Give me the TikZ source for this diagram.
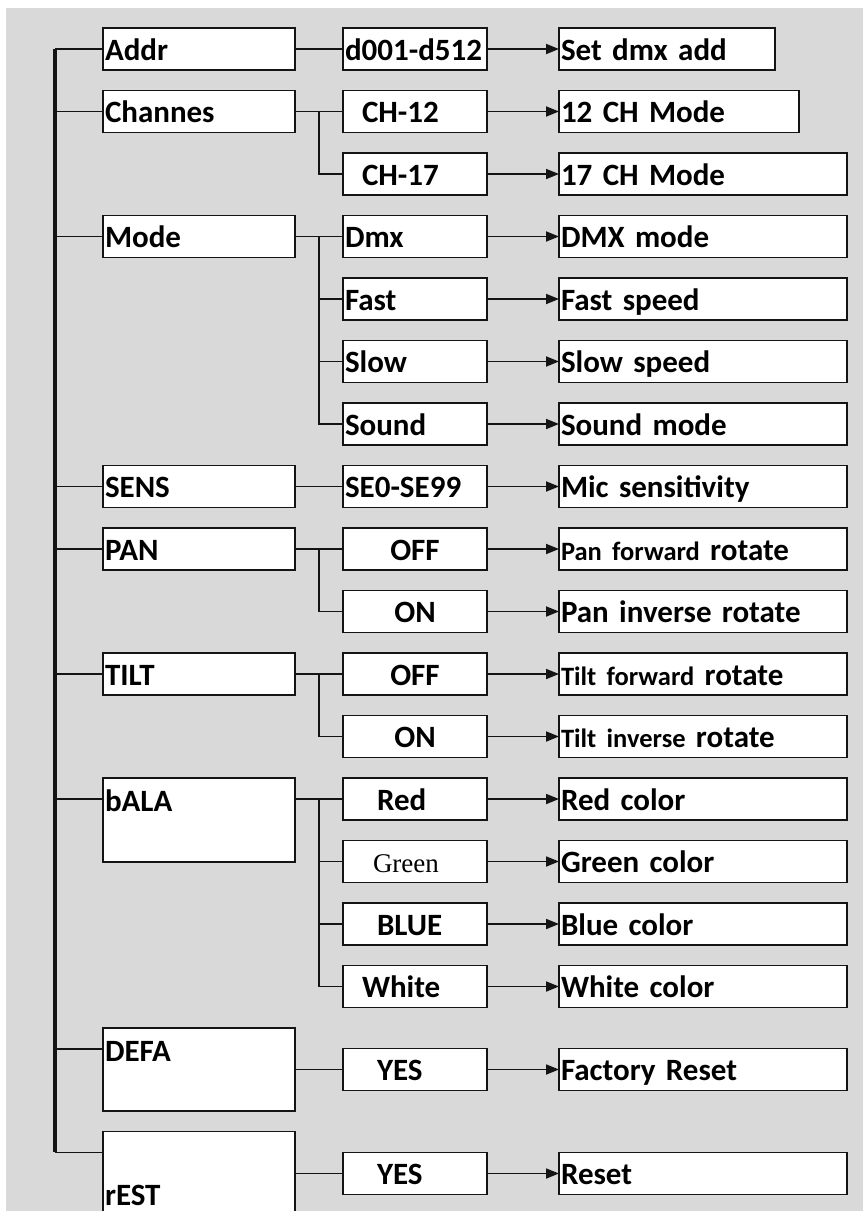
\documentclass[tikz,border=0pt]{standalone}
\usepackage{fontspec}
\setmainfont{Carlito}
\newfontfamily\greenfont{Liberation Serif}
\usepackage{tikz}
\usetikzlibrary{positioning,arrows.meta,calc}
\definecolor{panel}{HTML}{D9D9D9}
\definecolor{ink}{HTML}{141414}
\newcommand{\smallword}[1]{{\fontsize{26.5}{32}\selectfont #1}}

\begin{document}
\begin{tikzpicture}[
  x=1pt,y=-1pt,
  font=\bfseries\fontsize{31}{37}\selectfont,
  box/.style={draw=ink,fill=white,line width=1.8pt,outer sep=0pt,inner xsep=2pt,inner ysep=0pt,text height=32pt,text depth=10pt,align=left},
  menu/.style={box,text width=188pt},
  opt/.style={box,text width=140pt},
  res/.style={box,text width=284pt},
  link/.style={line width=1.8pt,color=ink},
  arr/.style={link,-{Triangle[length=13pt,width=10pt]}},
  trunk/.style={line width=4.5pt,color=ink}
]
  \useasboundingbox (0,0) rectangle (863,1211);
  \fill[panel] (6,8) rectangle (863,1211);

  % second column
  \node[opt] (d001) at (415,49) {d001-d512};
  \node[opt,below=20.5pt of d001] (ch12) {\hspace*{17pt}CH-12};
  \node[opt,below=20.5pt of ch12] (ch17) {\hspace*{17pt}CH-17};
  \node[opt,below=20.5pt of ch17] (dmx) {Dmx};
  \node[opt,below=20.5pt of dmx] (fast) {Fast};
  \node[opt,below=20.5pt of fast] (slow) {Slow};
  \node[opt,below=20.5pt of slow] (sound) {Sound};
  \node[opt,below=20.5pt of sound] (se) {SE0-SE99};
  \node[opt,align=center,below=20.5pt of se] (panoff) {OFF};
  \node[opt,align=center,below=20.5pt of panoff] (panon) {ON};
  \node[opt,align=center,below=20.5pt of panon] (tiltoff) {OFF};
  \node[opt,align=center,below=20.5pt of tiltoff] (tilton) {ON};
  \node[opt,below=20.5pt of tilton] (red) {\hspace*{32pt}Red};
  \node[opt,below=20.5pt of red] (green) {\greenfont\mdseries\fontsize{27}{32}\selectfont\hspace*{28pt}Green};
  \node[opt,below=20.5pt of green] (blue) {\hspace*{32pt}BLUE};
  \node[opt,below=20.5pt of blue] (white) {\hspace*{17pt}White};
  \node[opt,below=41pt of white] (yes1) {\hspace*{32pt}YES};
  \node[opt,below=62pt of yes1] (yes2) {\hspace*{32pt}YES};

  % third column
  \node[res,text width=212pt,right=72pt of d001] (setadd) {Set dmx add};
  \node[res,text width=236pt,right=72pt of ch12] (mode12) {12 CH Mode};
  \node[res,right=72pt of ch17] (mode17) {17 CH Mode};
  \node[res,right=72pt of dmx] (dmxmode) {DMX mode};
  \node[res,right=72pt of fast] (fastspd) {Fast speed};
  \node[res,right=72pt of slow] (slowspd) {Slow speed};
  \node[res,right=72pt of sound] (sndmode) {Sound mode};
  \node[res,right=72pt of se] (micsens) {Mic sensitivity};
  \node[res,right=72pt of panoff] (panfwd) {\smallword{Pan forward} rotate};
  \node[res,right=72pt of panon] (panrev) {Pan inverse rotate};
  \node[res,right=72pt of tiltoff] (tiltfwd) {\smallword{Tilt forward} rotate};
  \node[res,right=72pt of tilton] (tiltrev) {\smallword{Tilt inverse} rotate};
  \node[res,right=72pt of red] (redcol) {Red color};
  \node[res,right=72pt of green] (greencol) {Green color};
  \node[res,right=72pt of blue] (bluecol) {Blue color};
  \node[res,right=72pt of white] (whitecol) {White color};
  \node[res,right=72pt of yes1] (factory) {Factory Reset};
  \node[res,right=72pt of yes2] (reset) {Reset};

  % first column
  \node[menu,left=48pt of d001] (addr) {Addr};
  \node[menu,left=48pt of ch12] (chan) {Channes};
  \node[menu,left=48pt of dmx] (mode) {Mode};
  \node[menu,left=48pt of se] (sens) {SENS};
  \node[menu,left=48pt of panoff] (pan) {PAN};
  \node[menu,left=48pt of tiltoff] (tilt) {TILT};
  \node[menu,text height=33pt,text depth=51pt,left=48pt of red.north west,anchor=north east] (bala) {bALA};
  \node[menu,text height=33pt,text depth=50pt,left=48pt of yes1] (defa) {DEFA};
  \node[menu,text height=74pt,text depth=10pt,left=48pt of yes2] (rest) {rEST};

  % trunk and branches
  \coordinate (trunktop) at (55,49);
  \coordinate (trunkbot) at (55,1152);
  \coordinate (fork) at (319,0);
  \draw[trunk] (trunktop) -- (trunkbot);
  \foreach \m in {addr,chan,mode,sens,pan,tilt,bala,defa,rest}
    \draw[link] ($(\m.north west)+(0,21)$) coordinate (hook) -- (hook -| trunktop);

  \draw[link] (addr) -- (d001);
  \draw[link] (chan) -- (ch12);
  \draw[link] (ch17.west) -| (fork |- ch12.west);
  \draw[link] (mode) -- (dmx);
  \foreach \s in {fast,slow,sound}
    \draw[link] (\s.west) -| (fork |- dmx.west);
  \draw[link] (sens) -- (se);
  \draw[link] (pan) -- (panoff);
  \draw[link] (panon.west) -| (fork |- panoff.west);
  \draw[link] (tilt) -- (tiltoff);
  \draw[link] (tilton.west) -| (fork |- tiltoff.west);
  \draw[link] (bala.east |- red) -- (red);
  \foreach \s in {green,blue,white}
    \draw[link] (\s.west) -| (fork |- red.west);
  \draw[link] (defa.east |- yes1) -- (yes1);
  \draw[link] (rest) -- (yes2);

  \foreach \a/\b in {d001/setadd,ch12/mode12,ch17/mode17,dmx/dmxmode,fast/fastspd,slow/slowspd,sound/sndmode,se/micsens,panoff/panfwd,panon/panrev,tiltoff/tiltfwd,tilton/tiltrev,red/redcol,green/greencol,blue/bluecol,white/whitecol,yes1/factory,yes2/reset}
    \draw[arr] (\a) -- (\b);
\end{tikzpicture}
\end{document}
